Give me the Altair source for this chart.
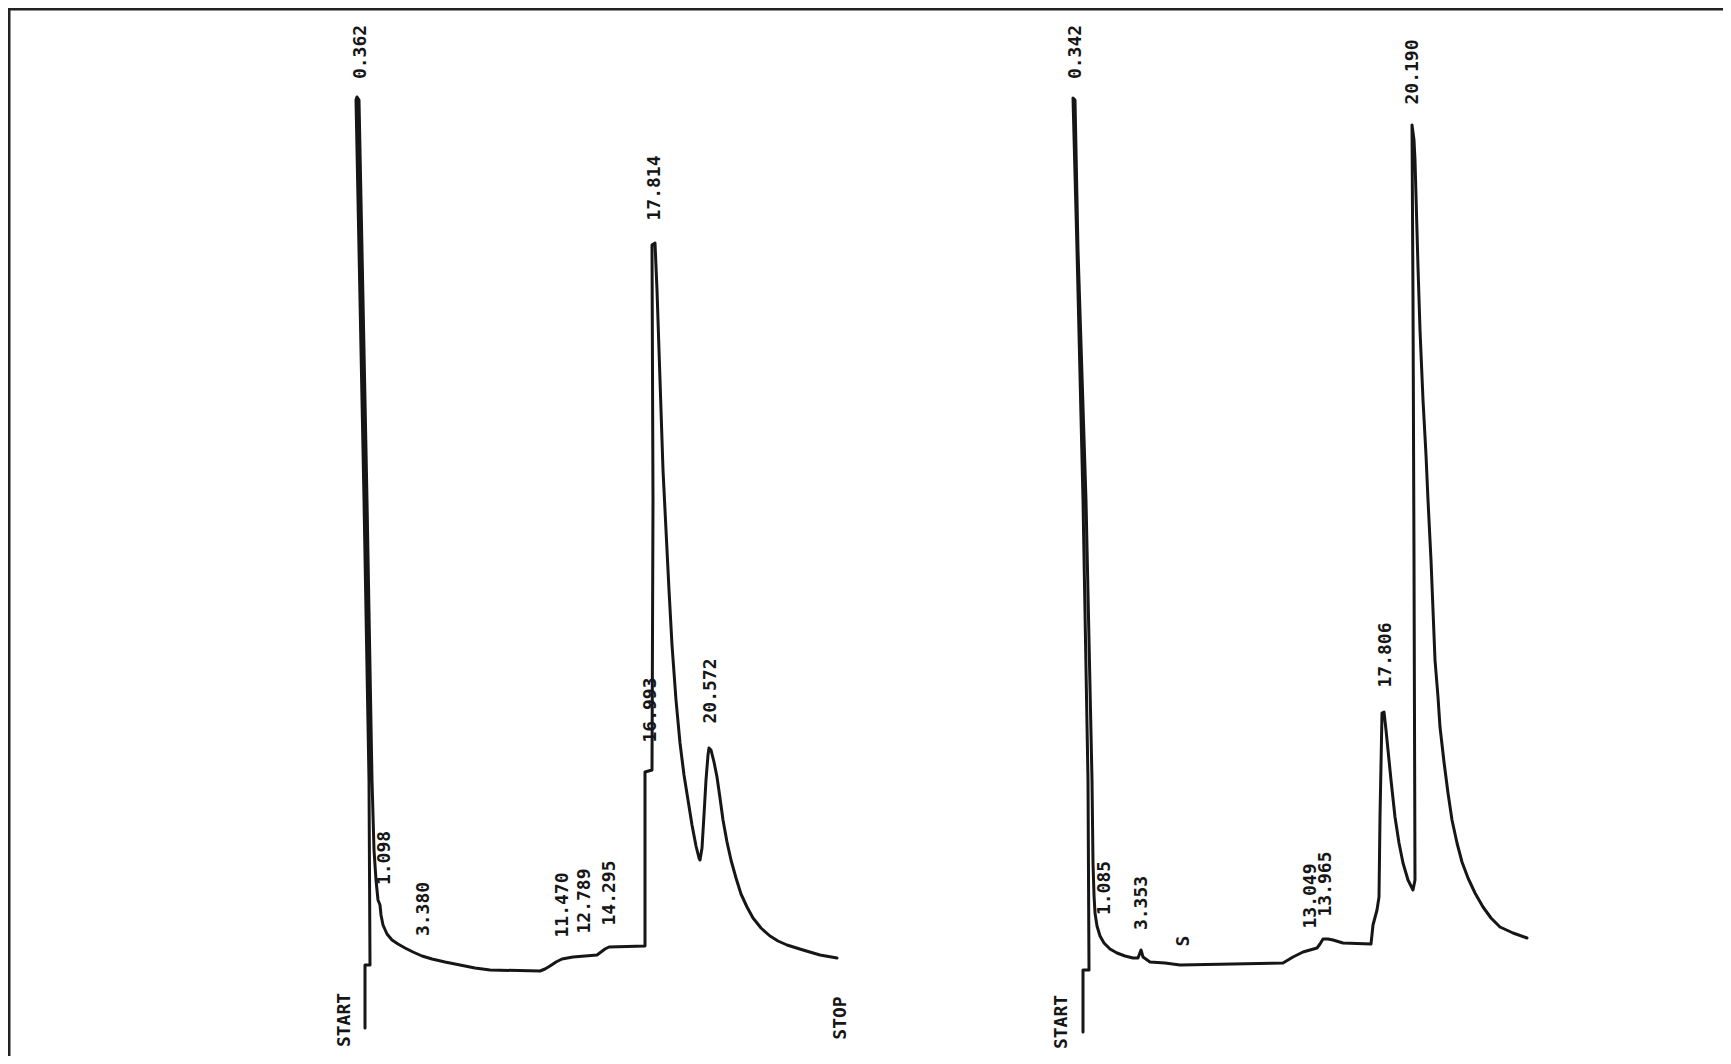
import altair as alt
import pandas as pd

# Two gas-chromatogram traces.
# Units: centimetres of chart paper (x from the left edge, y = height above the bottom edge).
left_x = [3.65, 3.65, 3.70, 3.69, 3.64, 3.59, 3.56, 3.57, 3.59, 3.62, 3.67, 3.72, 3.74, 3.76,
          3.78, 3.80, 3.81, 3.83, 3.87, 3.92, 3.98, 4.05, 4.13, 4.22, 4.32, 4.45, 4.60, 4.75,
          4.90, 5.40, 5.45, 5.50, 5.56, 5.62, 5.73, 5.97, 6.01, 6.05, 6.09, 6.45, 6.45, 6.52,
          6.53, 6.52, 6.55, 6.57, 6.59, 6.61, 6.63, 6.66, 6.69, 6.72, 6.76, 6.80, 6.84, 6.88,
          6.92, 6.96, 6.99, 7.00, 7.02, 7.04, 7.06, 7.08, 7.09, 7.11, 7.14, 7.17, 7.20, 7.23,
          7.27, 7.31, 7.36, 7.41, 7.47, 7.53, 7.61, 7.70, 7.78, 7.87, 8.03, 8.20, 8.37]
left_y = [0.36, 0.99, 0.99, 2.84, 5.64, 8.14, 9.64, 9.67, 9.64, 8.14, 5.64, 2.84, 2.14, 1.84,
          1.64, 1.59, 1.49, 1.39, 1.30, 1.24, 1.20, 1.16, 1.12, 1.08, 1.05, 1.02, 0.99, 0.96,
          0.94, 0.93, 0.95, 0.98, 1.02, 1.05, 1.07, 1.09, 1.12, 1.15, 1.17, 1.18, 2.92, 2.94,
          5.64, 8.19, 8.21, 7.74, 7.14, 6.54, 5.94, 5.34, 4.74, 4.19, 3.64, 3.21, 2.89, 2.64,
          2.39, 2.18, 2.06, 2.04, 2.16, 2.49, 2.84, 3.09, 3.16, 3.14, 3.02, 2.87, 2.66, 2.44,
          2.22, 2.04, 1.86, 1.70, 1.57, 1.46, 1.36, 1.28, 1.23, 1.19, 1.14, 1.09, 1.06]

right_x = [10.83, 10.83, 10.89, 10.88, 10.83, 10.77, 10.73, 10.75, 10.78, 10.86, 10.92, 10.93,
           10.94, 10.95, 10.97, 11.00, 11.04, 11.10, 11.17, 11.25, 11.33, 11.38, 11.41, 11.43,
           11.50, 11.65, 11.80, 12.83, 12.88, 12.93, 13.03, 13.10, 13.17, 13.20, 13.23, 13.28,
           13.33, 13.43, 13.71, 13.73, 13.77, 13.79, 13.80, 13.82, 13.84, 13.86, 13.88, 13.91,
           13.95, 13.99, 14.03, 14.08, 14.13, 14.15, 14.14, 14.13, 14.12, 14.14, 14.15, 14.18,
           14.20, 14.23, 14.26, 14.28, 14.31, 14.33, 14.35, 14.38, 14.40, 14.44, 14.48, 14.52,
           14.57, 14.62, 14.68, 14.75, 14.83, 14.91, 15.00, 15.13, 15.27]
right_y = [0.32, 0.94, 0.94, 2.84, 5.64, 8.14, 9.66, 9.64, 8.14, 5.64, 2.84, 2.01,
           1.69, 1.51, 1.38, 1.28, 1.21, 1.15, 1.11, 1.08, 1.06, 1.06, 1.14, 1.07,
           1.02, 1.01, 0.99, 1.01, 1.04, 1.07, 1.12, 1.14, 1.16, 1.20, 1.25, 1.25,
           1.24, 1.21, 1.20, 1.39, 1.54, 1.67, 2.47, 3.51, 3.52, 3.34, 3.14, 2.84,
           2.47, 2.21, 2.01, 1.84, 1.74, 1.84, 5.04, 7.64, 9.39, 9.24, 9.04, 7.97,
           7.34, 6.64, 6.09, 5.64, 5.04, 4.54, 4.04, 3.67, 3.37, 3.02, 2.71, 2.44,
           2.21, 2.02, 1.86, 1.71, 1.57, 1.46, 1.37, 1.31, 1.26]

# Retention-time annotations printed by the integrator
label_text = ["0.362", "1.098", "3.380", "11.470", "12.789", "14.295", "16.993", "17.814",
              "20.572", "START", "STOP",
              "0.342", "1.085", "3.353", "S", "13.049", "13.965", "17.806", "20.190", "START"]
label_x = [3.61, 3.85, 4.24, 5.63, 5.85, 6.10, 6.51, 6.55, 7.11, 3.45, 8.41,
           10.76, 11.05, 11.42, 11.84, 13.11, 13.26, 13.86, 14.13, 10.62]
label_y = [10.12, 2.06, 1.55, 1.59, 1.63, 1.71, 3.54, 8.76, 3.73, 0.44, 0.46,
           10.12, 1.76, 1.61, 1.23, 1.68, 1.80, 4.09, 9.92, 0.42]

# Paper frame (top edge and left edge of the mounted figure)
frame_x = [0.09, 0.09, 17.23]
frame_y = [0.08, 10.55, 10.55]

rows = []
for i, (x, y) in enumerate(zip(left_x, left_y)):
    rows.append({"run": "A", "seq": i, "x": x, "y": y})
for i, (x, y) in enumerate(zip(right_x, right_y)):
    rows.append({"run": "B", "seq": i, "x": x, "y": y})
traces = pd.DataFrame(rows)
labels = pd.DataFrame({"text": label_text, "x": label_x, "y": label_y})
frame = pd.DataFrame({"seq": range(len(frame_x)), "x": frame_x, "y": frame_y})

xs = alt.Scale(domain=[0.08, 17.23], nice=False, zero=False)
ys = alt.Scale(domain=[0.08, 10.56], nice=False, zero=False)

ink = "#161616"

trace_layer = alt.Chart(traces).mark_line(
    color=ink, strokeWidth=3, strokeJoin="round", strokeCap="round",
).encode(
    x=alt.X("x:Q", scale=xs, axis=None),
    y=alt.Y("y:Q", scale=ys, axis=None),
    detail="run:N",
    order="seq:Q",
)

frame_layer = alt.Chart(frame).mark_line(color="#222222", strokeWidth=3).encode(
    x=alt.X("x:Q", scale=xs, axis=None),
    y=alt.Y("y:Q", scale=ys, axis=None),
    order="seq:Q",
)

label_layer = alt.Chart(labels).mark_text(
    angle=270, align="center", baseline="middle",
    font="DejaVu Sans Mono", fontSize=18, fontWeight="bold", color=ink,
).encode(
    x=alt.X("x:Q", scale=xs, axis=None),
    y=alt.Y("y:Q", scale=ys, axis=None),
    text="text:N",
)

chart = alt.layer(frame_layer, trace_layer, label_layer).properties(
    width=1715, height=1048, padding=0,
    autosize=alt.AutoSizeParams(type="none"),
    background="white",
).configure_view(stroke=None)

chart.save("out.html", embed_options={"renderer": "svg", "actions": False})
